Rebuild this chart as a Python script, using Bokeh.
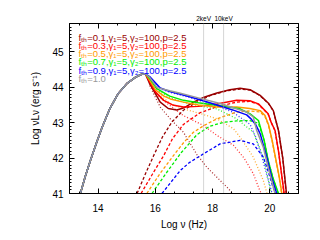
import math
from bokeh.plotting import figure
from bokeh.models import LinearAxis, Span, Label, SingleIntervalTicker, FixedTicker
from bokeh.embed import file_html
from bokeh.resources import INLINE

# ---- data ----
rise_x = [13.38, 13.55, 13.73, 13.95, 14.14, 14.4, 14.7, 15.0, 15.3, 15.5, 15.65]
rise_y = [41.0, 41.48, 41.93, 42.45, 42.87, 43.38, 43.82, 44.1, 44.28, 44.36, 44.38]

# total (solid)
tot01_x = [15.8, 16.0, 16.17, 16.45, 16.75, 17.0, 17.33, 17.7, 18.15, 18.6, 18.96, 19.31, 19.66, 19.95, 20.12, 20.3, 20.45, 20.58]
tot01_y = [44.1, 43.82, 43.58, 43.4, 43.36, 43.42, 43.58, 43.72, 43.84, 43.93, 43.97, 43.93, 43.77, 43.55, 43.34, 42.78, 42.0, 41.0]
tot03_x = [15.8, 16.0, 16.29, 16.6, 16.98, 17.5, 18.15, 18.84, 19.3, 19.6, 19.94, 20.05, 20.18, 20.3, 20.4, 20.5]
tot03_y = [44.15, 43.87, 43.63, 43.5, 43.44, 43.46, 43.53, 43.63, 43.62, 43.53, 43.25, 43.0, 42.78, 42.2, 41.6, 41.0]
tot05_x = [15.8, 16.0, 16.3, 16.52, 16.98, 17.5, 18.15, 18.84, 19.3, 19.66, 19.83, 19.95, 20.08, 20.2, 20.32, 20.42]
tot05_y = [44.2, 43.93, 43.75, 43.67, 43.58, 43.5, 43.44, 43.44, 43.4, 43.34, 43.2, 42.95, 42.5, 42.0, 41.5, 41.0]
tot07_x = [15.8, 16.05, 16.5, 16.98, 17.5, 18.15, 18.96, 19.31, 19.6, 19.8, 19.94, 20.1, 20.3]
tot07_y = [44.25, 43.96, 43.75, 43.63, 43.56, 43.49, 43.39, 43.25, 43.06, 42.5, 41.93, 41.45, 41.0]
tot09_x = [15.8, 16.17, 16.5, 16.98, 17.5, 18.15, 18.7, 19.19, 19.35, 19.5, 19.66, 19.89, 20.06, 20.24]
tot09_y = [44.3, 43.98, 43.88, 43.78, 43.66, 43.5, 43.36, 43.22, 43.1, 42.95, 42.69, 42.03, 41.46, 41.0]
tot10_x = [15.8, 16.06, 16.5, 16.87, 17.5, 18.26, 18.8, 19.19, 19.42, 19.54, 19.77, 19.94, 20.18]
tot10_y = [44.28, 43.99, 43.9, 43.83, 43.7, 43.54, 43.4, 43.3, 43.16, 42.78, 42.31, 41.74, 41.0]

# thermal (dotted)
th01_x = [15.8, 16.0, 16.17, 16.55, 16.98, 17.45, 17.8, 18.26, 18.5, 18.7]
th01_y = [44.05, 43.72, 43.44, 43.08, 42.73, 42.1, 41.74, 41.37, 41.18, 41.0]
th03_x = [15.8, 16.0, 16.4, 16.98, 17.68, 18.15, 18.73, 19.1, 19.42, 19.65, 19.7]
th03_y = [44.1, 43.84, 43.55, 43.2, 42.92, 42.64, 42.36, 42.0, 41.56, 41.08, 41.0]
th05_x = [15.8, 16.0, 16.5, 16.98, 17.6, 18.15, 18.73, 18.96, 19.42, 19.77, 19.9]
th05_y = [44.15, 43.9, 43.55, 43.39, 43.25, 43.11, 42.83, 42.59, 42.03, 41.37, 41.0]
th07_x = [15.8, 16.05, 16.5, 16.98, 17.5, 18.15, 18.84, 19.42, 19.77, 20.0, 20.05]
th07_y = [44.22, 43.93, 43.7, 43.58, 43.48, 43.39, 43.11, 42.73, 42.03, 41.18, 41.0]
th09_x = [15.8, 16.17, 16.5, 16.98, 17.5, 18.15, 18.7, 19.31, 19.5, 19.7, 19.9, 20.08]
th09_y = [44.28, 43.96, 43.86, 43.76, 43.64, 43.47, 43.3, 42.95, 42.6, 42.1, 41.5, 41.0]

# non-thermal (dashed)
nt01_x = [15.36, 15.65, 15.94, 16.25, 16.58, 16.98, 17.4, 17.9, 18.5, 18.96, 19.31, 19.66, 19.95, 20.12, 20.3, 20.45, 20.57]
nt01_y = [41.0, 41.55, 42.07, 42.6, 43.02, 43.35, 43.56, 43.76, 43.9, 43.95, 43.92, 43.76, 43.54, 43.33, 42.77, 42.0, 41.0]
nt03_x = [15.5, 15.9, 16.29, 16.6, 16.98, 17.56, 18.15, 18.84, 19.3, 19.6, 19.94, 20.05, 20.18, 20.3, 20.4, 20.49]
nt03_y = [41.0, 41.55, 42.07, 42.55, 42.95, 43.28, 43.45, 43.58, 43.6, 43.52, 43.24, 43.0, 42.77, 42.2, 41.6, 41.0]
nt05_x = [15.7, 16.15, 16.63, 17.0, 17.33, 17.7, 18.15, 18.84, 19.3, 19.66, 19.83, 19.95, 20.08, 20.2, 20.32, 20.41]
nt05_y = [41.0, 41.55, 42.07, 42.45, 42.73, 42.92, 43.11, 43.3, 43.33, 43.3, 43.17, 42.93, 42.48, 41.98, 41.48, 41.0]
nt07_x = [15.88, 16.4, 16.9, 17.45, 17.9, 18.38, 18.84, 19.3, 19.6, 19.8, 19.94, 20.1, 20.29]
nt07_y = [41.0, 41.6, 42.15, 42.66, 42.9, 43.01, 43.05, 43.06, 42.98, 42.5, 41.93, 41.45, 41.0]
nt09_x = [16.23, 16.87, 17.2, 17.68, 18.26, 18.96, 19.42, 19.77, 19.95, 20.1, 20.2]
nt09_y = [41.0, 41.65, 41.88, 42.12, 42.4, 42.5, 42.4, 42.03, 41.6, 41.2, 41.0]

f_th = ["0.1", "0.3", "0.5", "0.7", "0.9", "1.0"]
colors = ["#990000", "#FF0000", "#FF9900", "#00EE00", "#0000FF", "#999999"]
marker_kev = [2, 10]
kev_labels = ["2keV", "10keV"]

X0, X1, Y0, Y1 = 13, 21, 41, 45.8
FRAME_H = 170  # px

# ---- figure ----
p = figure(width=312, height=232, x_range=(X0, X1), y_range=(Y0, Y1),
           output_backend="svg", toolbar_location=None,
           min_border_left=69, min_border_right=14, min_border_top=23, min_border_bottom=39)
p.xgrid.visible = False
p.ygrid.visible = False
p.outline_line_color = "black"
p.background_fill_color = "white"

FONT = "Liberation Sans"

def style_axis(ax, show_labels=True):
    ax.major_tick_in = 5
    ax.major_tick_out = 0
    ax.minor_tick_in = 2
    ax.minor_tick_out = 0
    ax.axis_line_color = "black"
    ax.major_tick_line_color = "black"
    ax.minor_tick_line_color = "black"
    ax.major_label_text_font = FONT
    ax.axis_label_text_font = FONT
    ax.axis_label_text_font_style = "normal"
    ax.axis_label_text_color = "black"
    if show_labels:
        ax.major_label_text_color = "black"
        ax.major_label_text_font_size = "10px"
        ax.axis_label_text_font_size = "10px"
    else:
        ax.major_label_text_color = None
        ax.major_label_text_font_size = "1px"
        ax.major_label_standoff = 0

p.xaxis.ticker = SingleIntervalTicker(interval=2, num_minor_ticks=3)
p.yaxis.ticker = SingleIntervalTicker(interval=1, num_minor_ticks=10)
style_axis(p.xaxis[0])
style_axis(p.yaxis[0])
p.xaxis.axis_label = "Log ν (Hz)"
p.yaxis.axis_label = "Log νLν (erg s⁻¹)"
p.xaxis.major_label_standoff = 10
p.xaxis.axis_label_standoff = 4
p.yaxis.major_label_standoff = 6
p.yaxis.axis_label_standoff = 8

top = LinearAxis(ticker=SingleIntervalTicker(interval=2, num_minor_ticks=3))
style_axis(top, False)
p.add_layout(top, "above")
right = LinearAxis(ticker=SingleIntervalTicker(interval=1, num_minor_ticks=10))
style_axis(right, False)
p.add_layout(right, "right")

# energy markers (lines + labels on an extra top axis)
h_kev = 4.135667696e-18  # keV s
kev_pos = [round(math.log10(e / h_kev), 4) for e in marker_kev]
for lx in kev_pos:
    p.add_layout(Span(location=lx, dimension="height", line_color="#AAAAAA",
                      line_dash="1 1", line_width=1))
kev_axis = LinearAxis(ticker=FixedTicker(ticks=kev_pos, minor_ticks=[]),
                      major_label_overrides={lx: lab for lx, lab in zip(kev_pos, kev_labels)},
                      major_tick_in=0, major_tick_out=0, minor_tick_in=0, minor_tick_out=0,
                      axis_line_color=None, major_tick_line_color=None, minor_tick_line_color=None,
                      major_label_text_font=FONT, major_label_text_font_size="6.5px",
                      major_label_text_color="black", major_label_standoff=2)
p.add_layout(kev_axis, "above")

tots = [(tot01_x, tot01_y), (tot03_x, tot03_y), (tot05_x, tot05_y),
        (tot07_x, tot07_y), (tot09_x, tot09_y), (tot10_x, tot10_y)]
ths = [(th01_x, th01_y), (th03_x, th03_y), (th05_x, th05_y), (th07_x, th07_y), (th09_x, th09_y)]
nts = [(nt01_x, nt01_y), (nt03_x, nt03_y), (nt05_x, nt05_y), (nt07_x, nt07_y), (nt09_x, nt09_y)]

for (tx, ty), c in zip(ths, colors):
    p.line(tx, ty, line_color=c, line_width=1.3, line_dash="1 2", line_alpha=0.8)
for (nx, ny), c in zip(nts, colors):
    p.line(nx, ny, line_color=c, line_width=1.3, line_dash="3 2")
for (sx, sy), c in zip(tots, colors):
    p.line(rise_x + sx, rise_y + sy, line_color=c, line_width=1.5)

# legend texts (rows stepped 8.3 px down from near the frame top)
px_per_unit = FRAME_H / (Y1 - Y0)
for i, (f, c) in enumerate(zip(f_th, colors)):
    if f == "1.0":
        txt = "fₜₕ=1.0"
    else:
        txt = "fₜₕ=" + f + ",γ₁=5,γ₂=100,p=2.5"
    ly = Y1 - (13.5 + 8.3 * i) / px_per_unit
    p.add_layout(Label(x=X0, y=ly, x_offset=9, text=txt,
                       text_color=c, text_font=FONT, text_font_size="9.5px",
                       text_baseline="middle"))

open("out.html", "w").write(file_html(p, INLINE))
